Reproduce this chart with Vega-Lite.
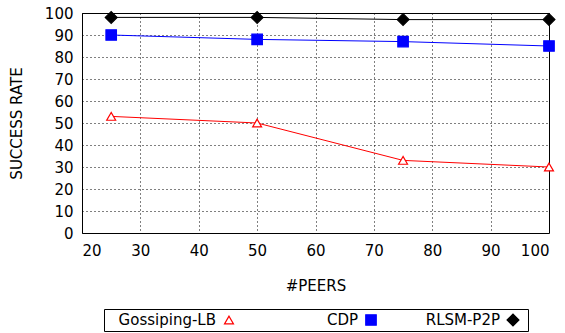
{
  "$schema": "https://vega.github.io/schema/vega-lite/v6.json",
  "background": "white",
  "padding": {"left": 8, "top": 5, "right": 5, "bottom": 0},
  "config": {
    "font": "DejaVu Sans",
    "view": {"stroke": "black", "strokeWidth": 1},
    "axis": {
      "labelFont": "DejaVu Sans", "titleFont": "DejaVu Sans",
      "labelFontSize": 15, "titleFontSize": 15, "titleFontWeight": "normal",
      "labelColor": "black", "titleColor": "black",
      "domain": false, "ticks": false,
      "grid": true, "gridColor": "black", "gridDash": [1, 3], "gridOpacity": 1, "gridWidth": 1
    }
  },
  "spacing": 14,
  "datasets": {
    "rates": [
      {"peers": 25, "rate": 53, "series": "Gossiping-LB"},
      {"peers": 50, "rate": 50, "series": "Gossiping-LB"},
      {"peers": 75, "rate": 33, "series": "Gossiping-LB"},
      {"peers": 100, "rate": 30, "series": "Gossiping-LB"},
      {"peers": 25, "rate": 90, "series": "CDP"},
      {"peers": 50, "rate": 88, "series": "CDP"},
      {"peers": 75, "rate": 87, "series": "CDP"},
      {"peers": 100, "rate": 85, "series": "CDP"},
      {"peers": 25, "rate": 98, "series": "RLSM-P2P"},
      {"peers": 50, "rate": 98, "series": "RLSM-P2P"},
      {"peers": 75, "rate": 97, "series": "RLSM-P2P"},
      {"peers": 100, "rate": 97, "series": "RLSM-P2P"}
    ],
    "names": [
      {"name": "Gossiping-LB"},
      {"name": "CDP"},
      {"name": "RLSM-P2P"}
    ]
  },
  "vconcat": [
    {
      "width": 467,
      "height": 220,
      "data": {"name": "rates"},
      "encoding": {
        "x": {"field": "peers", "type": "quantitative",
              "scale": {"domain": [20, 100], "nice": false},
              "axis": {"values": [20, 30, 40, 50, 60, 70, 80, 90, 100], "title": "#PEERS", "labelPadding": 10, "titlePadding": 20}},
        "y": {"field": "rate", "type": "quantitative",
              "scale": {"domain": [0, 100], "nice": false},
              "axis": {"values": [0, 10, 20, 30, 40, 50, 60, 70, 80, 90, 100], "title": "SUCCESS RATE", "labelPadding": 9, "titlePadding": 20}},
        "color": {"field": "series", "type": "nominal",
                  "scale": {"domain": ["Gossiping-LB", "CDP", "RLSM-P2P"], "range": ["#ff0000", "#0000ff", "#000000"]},
                  "legend": null}
      },
      "layer": [
        {"mark": {"type": "line", "strokeWidth": 1}},
        {"mark": {"type": "point", "opacity": 1, "strokeWidth": 1.2},
         "encoding": {
           "shape": {"field": "series", "type": "nominal",
                     "scale": {"domain": ["Gossiping-LB", "CDP", "RLSM-P2P"], "range": ["triangle-up", "square", "diamond"]},
                     "legend": null},
           "fill": {"field": "series", "type": "nominal",
                    "scale": {"domain": ["Gossiping-LB", "CDP", "RLSM-P2P"], "range": ["#ffffff", "#0000ff", "#000000"]},
                    "legend": null},
           "size": {"field": "series", "type": "nominal",
                    "scale": {"domain": ["Gossiping-LB", "CDP", "RLSM-P2P"], "range": [80, 140, 90]},
                    "legend": null}
         }}
      ]
    },
    {
      "spacing": 20,
      "hconcat": [
        {
          "width": 1,
          "height": 22,
          "view": {"stroke": null},
          "data": {"values": []},
          "mark": "text"
        },
        {
          "width": 424,
          "height": 22,
          "data": {"name": "names"},
          "encoding": {
            "x": {"field": "name", "type": "nominal",
                  "scale": {"type": "point", "padding": 0, "domain": ["Gossiping-LB", "CDP", "RLSM-P2P"], "range": [125, 409]},
                  "axis": null}
          },
          "layer": [
            {"mark": {"type": "text", "align": "right", "dx": -13, "fontSize": 15, "font": "DejaVu Sans", "color": "black"},
             "encoding": {"text": {"field": "name"}}},
            {"mark": {"type": "point", "opacity": 1, "strokeWidth": 1.2},
             "encoding": {
               "shape": {"field": "name", "type": "nominal",
                         "scale": {"domain": ["Gossiping-LB", "CDP", "RLSM-P2P"], "range": ["triangle-up", "square", "diamond"]},
                         "legend": null},
               "color": {"field": "name", "type": "nominal",
                         "scale": {"domain": ["Gossiping-LB", "CDP", "RLSM-P2P"], "range": ["#ff0000", "#0000ff", "#000000"]},
                         "legend": null},
               "fill": {"field": "name", "type": "nominal",
                        "scale": {"domain": ["Gossiping-LB", "CDP", "RLSM-P2P"], "range": ["#ffffff", "#0000ff", "#000000"]},
                        "legend": null},
               "size": {"field": "name", "type": "nominal",
                        "scale": {"domain": ["Gossiping-LB", "CDP", "RLSM-P2P"], "range": [60, 120, 80]},
                        "legend": null}
             }}
          ]
        }
      ]
    }
  ]
}
